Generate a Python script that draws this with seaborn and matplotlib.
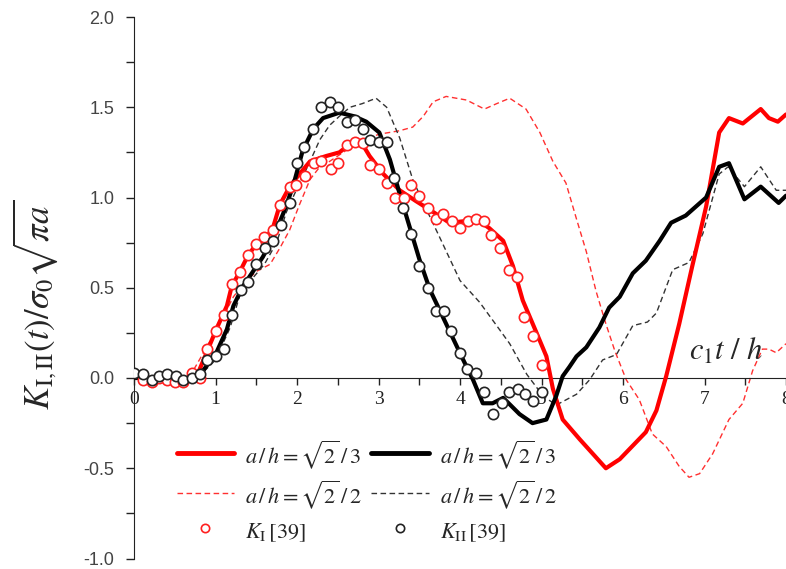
import numpy as np
import pandas as pd
import matplotlib
matplotlib.use("Agg")
import matplotlib.pyplot as plt
from matplotlib.lines import Line2D
import seaborn as sns

# ---------------- data ----------------
t_red_solid = [0.0, 0.2, 0.4, 0.6, 0.77, 0.89, 1.01, 1.14, 1.20, 1.30, 1.40, 1.50, 1.63, 1.71, 1.79, 1.91,
               2.03, 2.16, 2.36, 2.52, 2.69, 2.81, 2.89, 3.06, 3.26, 3.46, 3.67, 3.87, 4.08, 4.20, 4.36,
               4.53, 4.65, 4.77, 4.93, 5.06, 5.14, 5.26, 5.47, 5.79, 5.96, 6.28, 6.41, 6.53, 6.69, 6.85,
               7.02, 7.18, 7.30, 7.47, 7.69, 7.79, 7.90, 8.0]
v_red_solid = [0.01, 0.0, -0.01, -0.01, 0.01, 0.14, 0.27, 0.40, 0.51, 0.59, 0.68, 0.74, 0.78, 0.84, 0.96, 1.06,
               1.13, 1.20, 1.23, 1.25, 1.31, 1.29, 1.23, 1.13, 1.04, 0.98, 0.92, 0.86, 0.87, 0.88, 0.83,
               0.76, 0.62, 0.43, 0.26, 0.12, -0.06, -0.23, -0.34, -0.50, -0.45, -0.30, -0.18, 0.01, 0.30, 0.62,
               0.95, 1.36, 1.44, 1.41, 1.49, 1.44, 1.42, 1.46]

t_blk_solid = [0.0, 0.4, 0.7, 0.83, 1.01, 1.14, 1.22, 1.34, 1.46, 1.58, 1.71, 1.83, 1.95, 2.07, 2.20, 2.32,
               2.52, 2.70, 2.85, 3.01, 3.14, 3.26, 3.38, 3.50, 3.63, 3.83, 4.04, 4.16, 4.28, 4.40, 4.53,
               4.73, 4.89, 5.06, 5.18, 5.26, 5.34, 5.43, 5.55, 5.71, 5.83, 5.96, 6.12, 6.28, 6.45, 6.59,
               6.77, 7.02, 7.18, 7.30, 7.49, 7.69, 7.91, 8.0]
v_blk_solid = [0.0, 0.0, 0.0, 0.03, 0.14, 0.27, 0.40, 0.51, 0.59, 0.67, 0.78, 0.91, 1.06, 1.26, 1.38, 1.44,
               1.47, 1.45, 1.42, 1.36, 1.21, 1.02, 0.84, 0.66, 0.49, 0.30, 0.10, -0.01, -0.14, -0.14, -0.11,
               -0.20, -0.25, -0.23, -0.10, 0.01, 0.06, 0.12, 0.17, 0.28, 0.39, 0.45, 0.58, 0.65, 0.76, 0.86,
               0.90, 1.00, 1.17, 1.19, 0.99, 1.06, 0.97, 1.01]

t_red_dash = [0.0, 0.5, 0.7, 0.89, 1.05, 1.22, 1.34, 1.50, 1.67, 1.79, 1.91, 2.03, 2.16, 2.28, 2.40, 2.60,
              2.80, 3.00, 3.26, 3.42, 3.55, 3.67, 3.83, 4.08, 4.30, 4.45, 4.61, 4.81, 4.98, 5.14, 5.30,
              5.43, 5.55, 5.67, 5.79, 5.90, 6.04, 6.20, 6.36, 6.53, 6.69, 6.81, 6.94, 7.10, 7.30, 7.47,
              7.59, 7.71, 7.79, 7.88, 8.0]
v_red_dash = [0.0, 0.0, 0.02, 0.17, 0.30, 0.45, 0.52, 0.59, 0.63, 0.72, 0.82, 0.96, 1.10, 1.17, 1.20, 1.26,
              1.31, 1.35, 1.37, 1.39, 1.45, 1.53, 1.56, 1.54, 1.49, 1.52, 1.55, 1.49, 1.36, 1.20, 1.08,
              0.88, 0.70, 0.48, 0.30, 0.15, -0.01, -0.12, -0.31, -0.38, -0.49, -0.55, -0.53, -0.42, -0.23, -0.14,
              0.04, 0.16, 0.16, 0.14, 0.19]

t_blk_dash = [0.0, 0.5, 0.8, 1.0, 1.18, 1.30, 1.45, 1.60, 1.75, 1.87, 2.00, 2.16, 2.28, 2.40, 2.52, 2.65,
              2.80, 2.97, 3.10, 3.26, 3.42, 3.55, 3.75, 4.00, 4.24, 4.45, 4.61, 4.82, 5.02, 5.18, 5.43,
              5.59, 5.75, 5.92, 6.12, 6.30, 6.41, 6.61, 6.81, 6.98, 7.18, 7.29, 7.49, 7.69, 7.88, 8.0]
v_blk_dash = [0.0, 0.0, 0.01, 0.10, 0.28, 0.46, 0.55, 0.63, 0.75, 0.92, 1.05, 1.20, 1.32, 1.40, 1.45, 1.50,
              1.52, 1.55, 1.50, 1.33, 1.10, 0.97, 0.78, 0.54, 0.42, 0.29, 0.19, 0.02, -0.10, -0.15, -0.09,
              -0.01, 0.10, 0.13, 0.29, 0.31, 0.36, 0.60, 0.64, 0.80, 1.13, 1.17, 1.06, 1.17, 1.04, 1.04]

t_KI_ref = [0.11, 0.22, 0.31, 0.41, 0.50, 0.60, 0.71, 0.81, 0.89, 1.00, 1.10, 1.20, 1.30, 1.40, 1.50, 1.60,
            1.70, 1.79, 1.91, 1.99, 2.10, 2.21, 2.30, 2.42, 2.50, 2.61, 2.71, 2.81, 2.89, 3.01, 3.10,
            3.20, 3.31, 3.40, 3.50, 3.61, 3.70, 3.79, 3.90, 4.00, 4.10, 4.20, 4.30, 4.38, 4.49, 4.60,
            4.70, 4.79, 4.89, 5.00]
v_KI_ref = [-0.01, -0.02, 0.0, -0.01, -0.02, -0.02, 0.03, 0.0, 0.16, 0.26, 0.35, 0.52, 0.59, 0.68, 0.74, 0.78,
            0.82, 0.96, 1.06, 1.07, 1.12, 1.19, 1.20, 1.16, 1.19, 1.29, 1.31, 1.30, 1.18, 1.16, 1.08,
            1.00, 1.00, 1.07, 1.01, 0.94, 0.88, 0.91, 0.87, 0.83, 0.87, 0.88, 0.87, 0.79, 0.72, 0.60,
            0.56, 0.34, 0.23, 0.07]

t_KII_ref = [0.00, 0.11, 0.22, 0.31, 0.41, 0.51, 0.60, 0.71, 0.81, 0.89, 1.00, 1.11, 1.20, 1.31, 1.40, 1.50,
             1.61, 1.71, 1.80, 1.91, 2.00, 2.08, 2.20, 2.30, 2.40, 2.50, 2.61, 2.71, 2.81, 2.90, 3.01,
             3.10, 3.19, 3.30, 3.40, 3.50, 3.61, 3.70, 3.80, 3.89, 4.00, 4.08, 4.20, 4.30, 4.40, 4.51,
             4.60, 4.71, 4.80, 4.89, 5.00]
v_KII_ref = [0.03, 0.02, -0.01, 0.01, 0.02, 0.01, -0.01, 0.00, 0.02, 0.10, 0.12, 0.16, 0.35, 0.49, 0.53, 0.63,
             0.72, 0.76, 0.85, 0.97, 1.19, 1.28, 1.38, 1.50, 1.53, 1.50, 1.42, 1.43, 1.38, 1.32, 1.31,
             1.31, 1.11, 0.94, 0.80, 0.62, 0.50, 0.37, 0.37, 0.26, 0.14, 0.05, 0.03, -0.08, -0.20, -0.14,
             -0.08, -0.06, -0.09, -0.13, -0.08]

y_tick_labels = ["-1.0", "-0.5", "0.0", "0.5", "1.0", "1.5", "2.0"]
legend_labels = [r"$a\,/\,h=\sqrt{2}\,/\,3$", r"$a\,/\,h=\sqrt{2}\,/\,2$", r"$K_{\mathrm{I}}\,[39]$",
                 r"$a\,/\,h=\sqrt{2}\,/\,3$", r"$a\,/\,h=\sqrt{2}\,/\,2$", r"$K_{\mathrm{II}}\,[39]$"]

# ---------------- plot ----------------
sns.set_style("ticks")
plt.rcParams["mathtext.fontset"] = "stix"
plt.rcParams["font.family"] = ["Liberation Sans", "DejaVu Sans"]

fig = plt.figure(figsize=(7.86, 5.69), dpi=100)
ax = fig.add_axes([134 / 786, 1 - 558.5 / 569, 1 - 134 / 786, (558.5 - 17) / 569])

dash_pat = (0, (4, 2.5))
sns.lineplot(x=t_red_dash, y=v_red_dash, ax=ax, color="#ff3030", lw=1.0, linestyle=dash_pat,
             sort=False, estimator=None, zorder=2)
sns.lineplot(x=t_blk_dash, y=v_blk_dash, ax=ax, color="#333333", lw=1.0, linestyle=dash_pat,
             sort=False, estimator=None, zorder=2)
sns.lineplot(x=t_red_solid, y=v_red_solid, ax=ax, color="#ff0000", lw=3.0,
             sort=False, estimator=None, zorder=3)
sns.lineplot(x=t_blk_solid, y=v_blk_solid, ax=ax, color="#000000", lw=3.0,
             sort=False, estimator=None, zorder=3)
sns.scatterplot(x=t_KI_ref, y=v_KI_ref, ax=ax, marker="o", s=55, facecolor="white",
                edgecolor="#ff2020", linewidth=1.2, zorder=4)
sns.scatterplot(x=t_KII_ref, y=v_KII_ref, ax=ax, marker="o", s=55, facecolor="white",
                edgecolor="#222222", linewidth=1.2, zorder=5)

ax.set_xlim(0, 8)
ax.set_ylim(-1.0, 2.0)

ax.spines["top"].set_visible(False)
ax.spines["right"].set_visible(False)
ax.spines["bottom"].set_position(("data", 0))
ax.spines["left"].set_color("#222222")
ax.spines["bottom"].set_color("#222222")

xt = np.arange(0, 8.01, 0.5)
ax.set_xticks(xt)
ax.set_xticklabels([str(int(v)) if abs(v - round(v)) < 1e-9 else "" for v in xt],
                   fontfamily="Liberation Serif", fontsize=14, color="#222222")
ax.tick_params(axis="x", direction="out", length=5, width=1, pad=4, color="#222222")

yt = np.arange(-1.0, 2.01, 0.25)
ax.set_yticks(yt)
lab_map = dict(zip([-1.0, -0.5, 0.0, 0.5, 1.0, 1.5, 2.0], y_tick_labels))
ax.set_yticklabels([lab_map.get(round(v, 2), "") for v in yt], fontsize=13, color="#444444")
ax.tick_params(axis="y", direction="out", length=6, width=1, pad=8, color="#222222")

fig.text(35 / 786, 1 - 305 / 569, r"$K_{\mathrm{I,II}}(t)/\sigma_0\sqrt{\pi a}$",
         rotation=90, ha="center", va="center", fontsize=25)
fig.text(726 / 786, 1 - 352 / 569, r"$c_{1}t\ /\ h$", ha="center", va="center", fontsize=22)

handles = [
    Line2D([], [], color="#ff0000", lw=3.5),
    Line2D([], [], color="#ff3030", lw=1.0, linestyle=dash_pat),
    Line2D([], [], color="#ff2020", lw=0, marker="o", markersize=6, markerfacecolor="white",
           markeredgewidth=1.2),
    Line2D([], [], color="#000000", lw=3.5),
    Line2D([], [], color="#333333", lw=1.0, linestyle=dash_pat),
    Line2D([], [], color="#222222", lw=0, marker="o", markersize=6, markerfacecolor="white",
           markeredgewidth=1.2),
]
leg = ax.legend(handles, legend_labels, ncol=2, frameon=False, loc="upper left",
                bbox_to_anchor=(161 / 786, 1 - 423 / 569), bbox_transform=fig.transFigure,
                fontsize=16, handlelength=2.6, handleheight=1.45, handletextpad=0.5,
                labelspacing=0.3, columnspacing=0.4, borderpad=0.2)

fig.savefig("out.png", dpi=100)
